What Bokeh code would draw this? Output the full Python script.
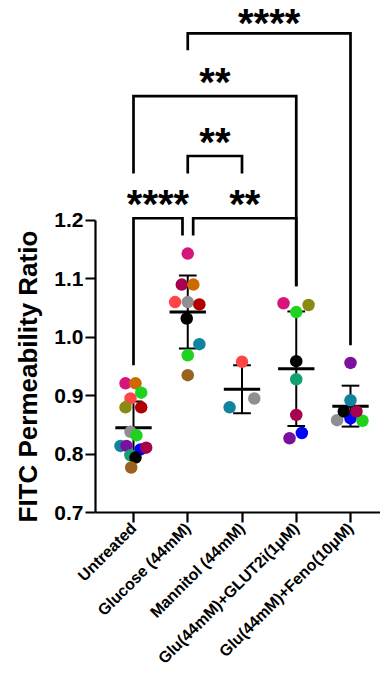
import math
from bokeh.plotting import figure
from bokeh.models import FixedTicker, Range1d, Title
from bokeh.embed import file_html
from bokeh.resources import INLINE
from bokeh.core.properties import value

# ---------------- data ----------------
categories = ["Untreated", "Glucose (44mM)", "Mannitol (44mM)",
              "Glu(44mM)+GLUT2i(1μM)", "Glu(44mM)+Feno(10μM)"]

untreated = [0.921, 0.921, 0.905, 0.895, 0.880, 0.880, 0.838, 0.832,
             0.814, 0.814, 0.808, 0.811, 0.798, 0.794, 0.777]
glucose = [1.143, 1.090, 1.090, 1.060, 1.060, 1.056, 1.032, 0.988, 0.969, 0.935]
mannitol = [0.958, 0.895, 0.880]
glut2i = [1.058, 1.055, 1.043, 0.959, 0.928, 0.867, 0.836, 0.827]
feno = [0.956, 0.892, 0.873, 0.873, 0.858, 0.861, 0.857]

means = [0.845, 1.043, 0.911, 0.946, 0.882]
sds = [0.045, 0.0625, 0.041, 0.098, 0.035]

y_ticks = [0.7, 0.8, 0.9, 1.0, 1.1, 1.2]
y_title = "FITC Permeability Ratio"

# significance brackets: (left group, right group, label)
sig_pairs = [(0, 1, "****"), (1, 3, "**"), (1, 2, "**"), (0, 3, "**"), (1, 4, "****")]

# ---------------- styles / layout ----------------
MAG, ORA, GRN, SAL, OLV, DRD = "#D6157A", "#CC6A00", "#1ED31E", "#FF4646", "#8A8A12", "#B00000"
GRY, TEA, PUR, BLU, CRM, TGR = "#8F8F8F", "#10839E", "#7B109E", "#0000FF", "#A6004F", "#13A073"
BLK, BRN = "#000000", "#9A6220"
PX = 54.25   # px per category (for jitter conversion)
UPX = 584.4  # px per 1.0 unit in y

groups = [untreated, glucose, mannitol, glut2i, feno]
jitter_px = [
    [-8, 2, 7.7, -3, -8, 7.7, -3, 3, -13, -7, 7, 12.7, -3, 2, -2.3],
    [0, -6, 5.6, -12.7, 0, 11.6, -1, 11.6, 0, 0],
    [0, 12.3, -12.4],
    [-12.7, 12.3, 0, 0, 0, 0, 5.6, -6.7],
    [0, 0, -6.7, 6, -13.4, 0, 12],
]
colors = [
    [MAG, ORA, GRN, SAL, OLV, DRD, GRY, GRN, TEA, PUR, BLU, CRM, TGR, BLK, BRN],
    [MAG, CRM, ORA, SAL, GRY, DRD, BLK, TEA, GRN, BRN],
    [SAL, GRY, TEA],
    [MAG, OLV, GRN, BLK, TGR, CRM, BLU, PUR],
    [PUR, TEA, BLK, CRM, GRY, BLU, GRN],
]
draw_order = [
    list(range(15)),
    list(range(10)),
    [0, 1, 2],
    list(range(8)),
    [4, 5, 6, 2, 3, 1, 0],
]

FONT = "Liberation Sans"

p = figure(width=380, height=675, output_backend="svg", toolbar_location=None,
           x_range=Range1d(-0.7005, 4.553), y_range=Range1d(0.7, 1.5761),
           min_border_left=95, min_border_right=0, min_border_top=0,
           min_border_bottom=163)
p.outline_line_color = None
p.grid.visible = False
p.background_fill_color = "white"
p.border_fill_color = "white"

# y axis
yax = p.yaxis[0]
yax.bounds = (0.7, 1.2)
yax.ticker = FixedTicker(ticks=y_ticks)
yax.major_label_overrides = {t: f"{t:.1f}" for t in y_ticks}
yax.minor_tick_line_color = None
yax.major_tick_in = 0
yax.major_tick_out = 10
yax.axis_line_width = 2.2
yax.major_tick_line_width = 2.2
yax.major_label_text_font = FONT
yax.major_label_text_font_style = "bold"
yax.major_label_text_font_size = "21px"
yax.major_label_text_color = "black"
yax.major_label_standoff = 2

# y-axis title, aligned with the bounded axis (starts near the axis bottom)
p.add_layout(Title(text=y_title, align="left", offset=-10, standoff=18,
                   text_font=FONT, text_font_style="bold", text_font_size="26px",
                   text_color="black"), "left")

# x axis
xax = p.xaxis[0]
xax.ticker = FixedTicker(ticks=list(range(len(categories))))
xax.major_label_overrides = {i: c for i, c in enumerate(categories)}
xax.minor_tick_line_color = None
xax.major_tick_in = 0
xax.major_tick_out = 10
xax.axis_line_width = 2.2
xax.major_tick_line_width = 2.2
xax.major_label_orientation = math.pi / 4
xax.major_label_text_font = FONT
xax.major_label_text_font_style = "bold"
xax.major_label_text_font_size = "16px"
xax.major_label_text_color = "black"
xax.major_label_standoff = 3

# error bars (SD) and means
xs_idx = list(range(len(categories)))
lo = [m - s for m, s in zip(means, sds)]
hi = [m + s for m, s in zip(means, sds)]
p.segment(x0=xs_idx, x1=xs_idx, y0=lo, y1=hi, line_color="black", line_width=2)
cap = 0.163
p.segment(x0=[i - cap for i in xs_idx], x1=[i + cap for i in xs_idx], y0=hi, y1=hi,
          line_color="black", line_width=2)
p.segment(x0=[i - cap for i in xs_idx], x1=[i + cap for i in xs_idx], y0=lo, y1=lo,
          line_color="black", line_width=2)
mw = 0.335
p.segment(x0=[i - mw for i in xs_idx], x1=[i + mw for i in xs_idx], y0=means, y1=means,
          line_color="black", line_width=3)

# points
px, py, pc = [], [], []
for gi, (vals, jit, cols, order) in enumerate(zip(groups, jitter_px, colors, draw_order)):
    for k in order:
        px.append(gi + jit[k] / PX)
        py.append(vals[k])
        pc.append(cols[k])
p.scatter(x=px, y=py, size=12.5, fill_color=pc, line_color=None, marker="circle")

# significance brackets (geometry per pair; gap = label offset above bar, px)
bracket_geom = {
    (0, 1): dict(xl=0.0, xr=0.903, yh=1.2035, yl=0.952, yr=1.174, gap=14),
    (1, 3): dict(xl=1.1, xr=3.0, yh=1.2035, yl=1.174, yr=1.087, gap=14),
    (1, 2): dict(xl=1.0, xr=2.0, yh=1.310, yl=1.280, yr=1.280, gap=14),
    (0, 3): dict(xl=0.0, xr=3.0, yh=1.4125, yl=1.280, yr=1.087, gap=14),
    (1, 4): dict(xl=1.0, xr=4.0, yh=1.520, yl=1.491, yr=0.986, gap=10),
}
bxs, bys, tx, ty, tt = [], [], [], [], []
for a, b, lab in sig_pairs:
    g = bracket_geom[(a, b)]
    bxs.append([g["xl"], g["xl"], g["xr"], g["xr"]])
    bys.append([g["yl"], g["yh"], g["yh"], g["yr"]])
    tx.append((g["xl"] + g["xr"]) / 2)
    ty.append(g["yh"] + g["gap"] / UPX)
    tt.append(lab)
p.multi_line(xs=bxs, ys=bys, line_color="black", line_width=2.7, line_join="miter")
p.text(x=tx, y=ty, text=tt, text_align="center", text_baseline="middle",
       text_font=value(FONT), text_font_style="bold", text_font_size="40px",
       text_color="black")

open("out.html", "w").write(file_html(p, INLINE))
